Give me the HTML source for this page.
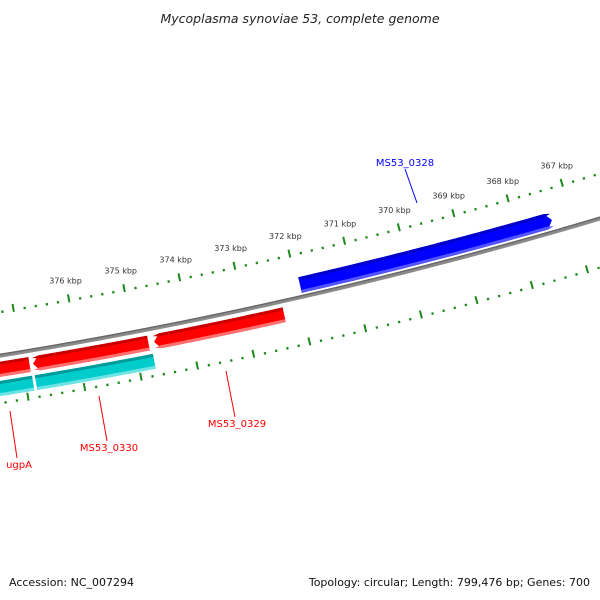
<!DOCTYPE html>
<html><head><meta charset="utf-8"><style>
html,body{margin:0;padding:0;background:#fff;}
svg{display:block;}
text{font-family:"DejaVu Sans","Liberation Sans",sans-serif;}
</style></head><body>
<svg id="map" width="600" height="600" viewBox="0 0 600 600" xmlns="http://www.w3.org/2000/svg">
<rect x="0" y="0" width="600" height="600" fill="#fff"/>
<text x="300" y="23" text-anchor="middle" font-size="12.5" font-style="italic" fill="#222">Mycoplasma synoviae 53, complete genome</text>
<g id="layer"></g>
<text x="9" y="586" font-size="11" fill="#111">Accession: NC_007294</text>
<text x="590" y="586" text-anchor="end" font-size="11" fill="#111">Topology: circular; Length: 799,476 bp; Genes: 700</text>
</svg>
<script>
// data
const genesForward = [{name:'MS53_0328', start:367350, end:371940, tip:'start'}];
const genesReverse = [
  {name:'MS53_0329', start:372327, end:374660, tip:'end'},
  {name:'MS53_0330', start:374760, end:376818, tip:'end'},
  {name:'ugpA', start:376880, end:379000, tip:'none'}
];
const genesCyan = [{name:'cds-1', start:374720, end:376820},{name:'cds-2', start:376870, end:379000}];
const tickStart = 365000, tickEnd = 379000, majorStep = 1000, minorStep = 200;
const tickLabelValues = [367,368,369,370,371,372,373,374,375,376];
const geneLabels = [
  {text:'MS53_0328', color:'#0000ff', tx:405, ty:166, lx1:405, ly1:169, lx2:417, ly2:203},
  {text:'MS53_0329', color:'#ff0000', tx:237, ty:427, lx1:226, ly1:371, lx2:235, ly2:417},
  {text:'MS53_0330', color:'#ff0000', tx:109, ty:451, lx1:99, ly1:396, lx2:107, ly2:441},
  {text:'ugpA', color:'#ff0000', tx:19, ty:468, lx1:10, ly1:411, lx2:17, ly2:458}
];
// geometry
const CX=-754, CY=-4324, R=4740;
const A0=77.16, K=0.000687;
function ang(bp){return (A0+(bp-372000)*K)*Math.PI/180;}
function pt(bp,r){const a=ang(bp);return [CX+r*Math.cos(a), CY+r*Math.sin(a)];}
const NS='http://www.w3.org/2000/svg';
const layer=document.getElementById('layer');
function mk(tag,attrs){const e=document.createElementNS(NS,tag);for(const k in attrs)e.setAttribute(k,attrs[k]);layer.appendChild(e);return e;}
function arcPts(b1,b2,r){const n=Math.max(2,Math.ceil(Math.abs(b2-b1)/150));const out=[];for(let i=0;i<=n;i++){out.push(pt(b1+(b2-b1)*i/n,r));}return out;}
function ptsStr(a){return a.map(p=>p[0].toFixed(2)+','+p[1].toFixed(2)).join(' ');}
function band(b1,b2,r1,r2,tip){
  // b1<b2; tip 'start' at b1, 'end' at b2
  const aw=110; let s=b1,e=b2;
  if(tip==='start')s=b1+aw; if(tip==='end')e=b2-aw;
  let p=arcPts(s,e,r1);
  if(tip==='end')p.push(pt(b2,(r1+r2)/2));
  p=p.concat(arcPts(e,s,r2));
  if(tip==='start')p.push(pt(b1,(r1+r2)/2));
  return ptsStr(p);
}
function gene(g,r1,r2,cMain,cDark,cLight,name){
  let e=mk('polygon',{points:band(g.start,g.end,r1,r2,g.tip),fill:cMain});
  
  
  let d=mk('polygon',{points:band(g.start,g.end,r1,r1+3,g.tip==='none'?'none':g.tip),fill:cDark});
  
  
  let l=mk('polygon',{points:band(g.start,g.end,r2-3,r2,g.tip==='none'?'none':g.tip),fill:cLight});
  
  
}
// backbone
let bb=mk('polyline',{points:ptsStr(arcPts(tickStart,tickEnd,R)),fill:'none',stroke:'#8a8a8a','stroke-width':4});


let bb2=mk('polyline',{points:ptsStr(arcPts(tickStart,tickEnd,R-1.3)),fill:'none',stroke:'#666','stroke-width':1.3});


// genes
genesForward.forEach(g=>gene(g,R-20,R-4,'#0000ff','#0000c8','#5555ff','gene-'+g.name.toLowerCase()));
genesReverse.forEach(g=>gene(g,R+6,R+21,'#ff0000','#c80000','#ff7070','gene-'+g.name.toLowerCase()));
genesCyan.forEach(g=>gene({start:g.start,end:g.end,tip:'none'},R+25,R+40,'#00cccc','#009a9a','#70e4e4','cyan-'+g.name));
// tick rings
function ring(r,dir,label){
  for(let bp=tickStart;bp<=tickEnd;bp+=minorStep){
    const major=(bp%majorStep===0);
    let a,b;
    if(major){a=pt(bp,r+2*dir);b=pt(bp,r-6*dir);}else{a=pt(bp,r+1.2*dir);b=pt(bp,r-1.2*dir);}
    const t=mk('line',{x1:a[0],y1:a[1],x2:b[0],y2:b[1],stroke:'#1a8a1a','stroke-width':major?2:2.2});
    
    
  }
}
ring(R-43,1,'outer-ring');
ring(R+47,1,'inner-ring');
tickLabelValues.forEach(v=>{
  const p=pt(v*1000,R-63);
  const t=mk('text',{x:p[0],y:p[1]+3,'text-anchor':'middle','font-size':8,fill:'#333'});
  t.textContent=v+' kbp';
  
  
});
geneLabels.forEach(g=>{
  const l=mk('line',{x1:g.lx1,y1:g.ly1,x2:g.lx2,y2:g.ly2,stroke:g.color,'stroke-width':1});
  
  
  const t=mk('text',{x:g.tx,y:g.ty,'text-anchor':'middle','font-size':10,fill:g.color});
  t.textContent=g.text;
  
  
});
</script>
</body></html>
